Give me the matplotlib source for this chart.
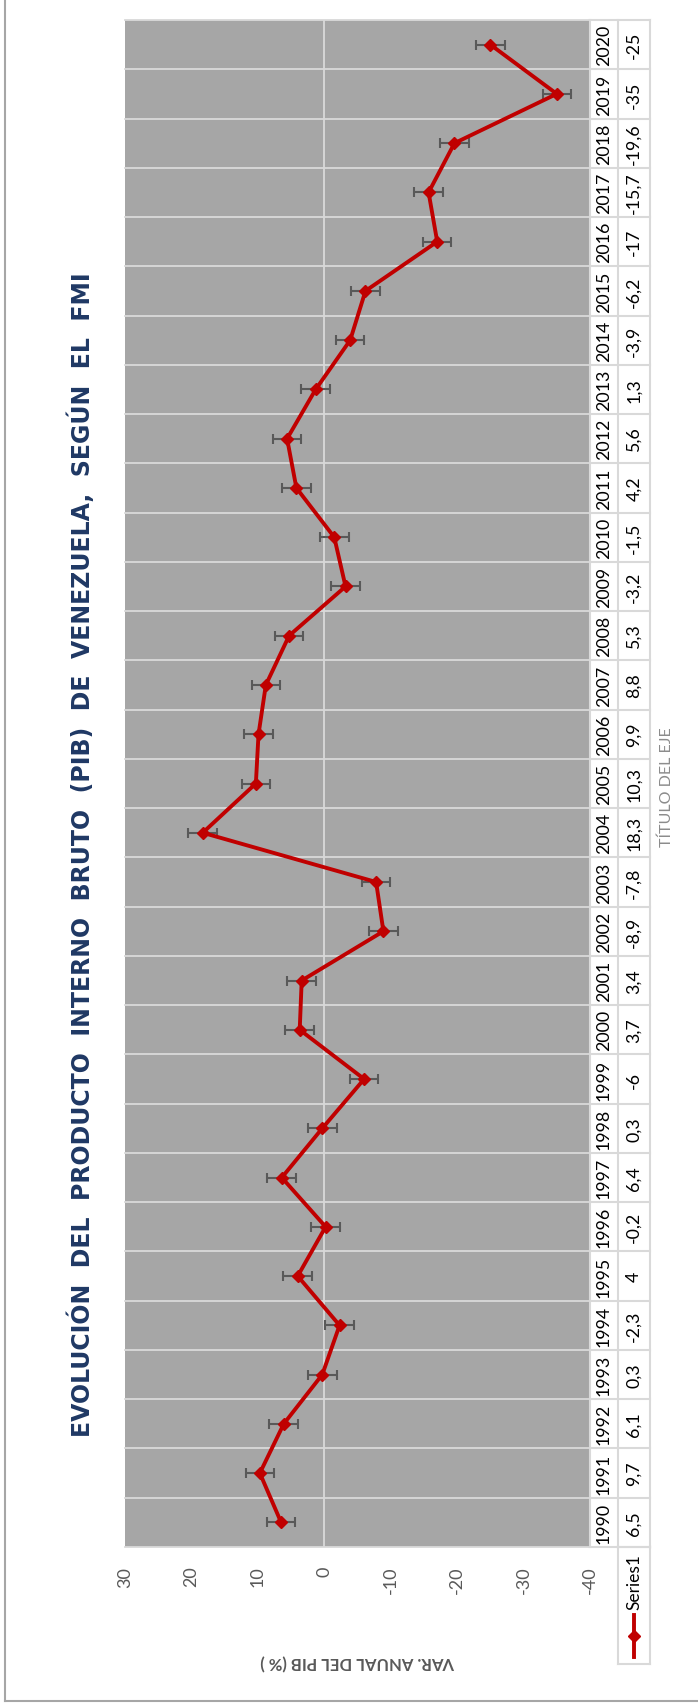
import matplotlib
matplotlib.use('Agg')
import matplotlib.pyplot as plt
from matplotlib.lines import Line2D

years = list(range(1990, 2021))
pib_var = [6.5, 9.7, 6.1, 0.3, -2.3, 4, -0.2, 6.4, 0.3, -6,
           3.7, 3.4, -8.9, -7.8, 18.3, 10.3, 9.9, 8.8, 5.3, -3.2,
           -1.5, 4.2, 5.6, 1.3, -3.9, -6.2, -17, -15.7, -19.6, -35, -25]
err = 2.15
value_ticks = [30, 20, 10, 0, -10, -20, -30, -40]

title = 'EVOLUCIÓN  DEL  PRODUCTO  INTERNO  BRUTO  (PIB)  DE  VENEZUELA,  SEGÚN  EL  FMI'
value_label = 'VAR. ANUAL DEL PIB (% )'
cat_label = 'TÍTULO DEL EJE'
series_name = 'Series1'

plt.rcParams['font.family'] = ['Lato', 'DejaVu Sans']
plt.rcParams['axes.unicode_minus'] = False

W, H = 698, 1706
fig = plt.figure(figsize=(W / 100, H / 100), dpi=100)


def fx(px):
    return px / W


def fy(py):
    return 1 - py / H


GRID = '#d9d9d9'
RED = '#c00000'

# plot area (years run bottom -> top, values right -> left)
p_l, p_r, p_t, p_b = 125, 590, 21, 1548
ax = fig.add_axes([fx(p_l), fy(p_b), (p_r - p_l) / W, (p_b - p_t) / H])
ax.set_facecolor('#a6a6a6')
pos = list(range(len(years)))
ax.set_xlim(30, -40)
ax.set_ylim(-0.5, len(years) - 0.5)
for k in range(len(years) + 1):
    ax.axhline(k - 0.5, color=GRID, lw=1.3, zorder=1, clip_on=False)
ax.axvline(0, color=GRID, lw=1.3, zorder=1)
for s in ax.spines.values():
    s.set_visible(False)

ax.set_xticks(value_ticks)
ax.set_xticklabels([str(v) for v in value_ticks], rotation=90)
ax.tick_params(axis='x', length=0, pad=13.5, labelsize=13, labelcolor='#595959')
ax.set_yticks([])

ax.errorbar(pib_var, pos, xerr=err, fmt='none', ecolor='#595959',
            elinewidth=1.5, capsize=3.8, capthick=1.5, zorder=3)
ax.plot(pib_var, pos, color=RED, lw=2.8, marker='D', ms=6.5, zorder=4)

# data table on the right
t_l, t_mid, t_r = 590, 618, 650
tab = fig.add_axes([fx(t_l), fy(p_b), (t_r - t_l) / W, (p_b - p_t) / H])
tab.set_xlim(t_l, t_r)
tab.set_ylim(-0.5, len(years) - 0.5)
tab.axis('off')
for k in range(len(years) + 1):
    tab.plot([t_l, t_r], [k - 0.5, k - 0.5], color=GRID, lw=1.5, clip_on=False)
for xv in (t_l, t_mid, t_r):
    tab.plot([xv, xv], [-0.5, len(years) - 0.5], color=GRID, lw=1.5, clip_on=False)
for i, (yr, v) in enumerate(zip(years, pib_var)):
    tab.text((t_l + t_mid) / 2, i, str(yr), rotation=90, ha='center', va='center',
             fontsize=12.8, color='black')
    tab.text((t_mid + t_r) / 2, i, f'{v:g}'.replace('.', ','), rotation=90,
             ha='center', va='center', fontsize=12.8, color='black')

# legend cell under the table
lg = fig.add_axes([fx(t_mid), fy(1665), (t_r - t_mid) / W, (1665 - p_b) / H])
lg.set_xlim(0, 1)
lg.set_ylim(1665, p_b)
lg.set_xticks([])
lg.set_yticks([])
lg.patch.set_alpha(0)
for s in lg.spines.values():
    s.set_color(GRID)
    s.set_linewidth(1.5)
lg.plot([0.5, 0.5], [1658, 1616], color=RED, lw=2.8)
lg.plot([0.5], [1637], color=RED, marker='D', ms=6.5)
lg.text(0.52, 1582, series_name, rotation=90, ha='center', va='center',
        fontsize=12.5, color='black')

# titles
fig.text(fx(81), fy(855), title, rotation=90, ha='center', va='center',
         fontsize=17, fontweight='bold', color='#1f3864', family='DejaVu Sans')
fig.text(fx(358), fy(1662), value_label, rotation=180, ha='center', va='center',
         fontsize=12, fontweight='bold', color='#595959')
fig.text(fx(667), fy(787), cat_label, rotation=90, ha='center', va='center',
         fontsize=11.5, color='#8c8c8c')

# chart frame (cropped: only left and bottom edges show)
fig.add_artist(Line2D([fx(5), fx(5)], [fy(0), fy(1702)], transform=fig.transFigure,
                      color='#a6a6a6', lw=1.5))
fig.add_artist(Line2D([fx(5), fx(W)], [fy(1702), fy(1702)], transform=fig.transFigure,
                      color='#a6a6a6', lw=1.5))

fig.savefig('out.png', dpi=100)
